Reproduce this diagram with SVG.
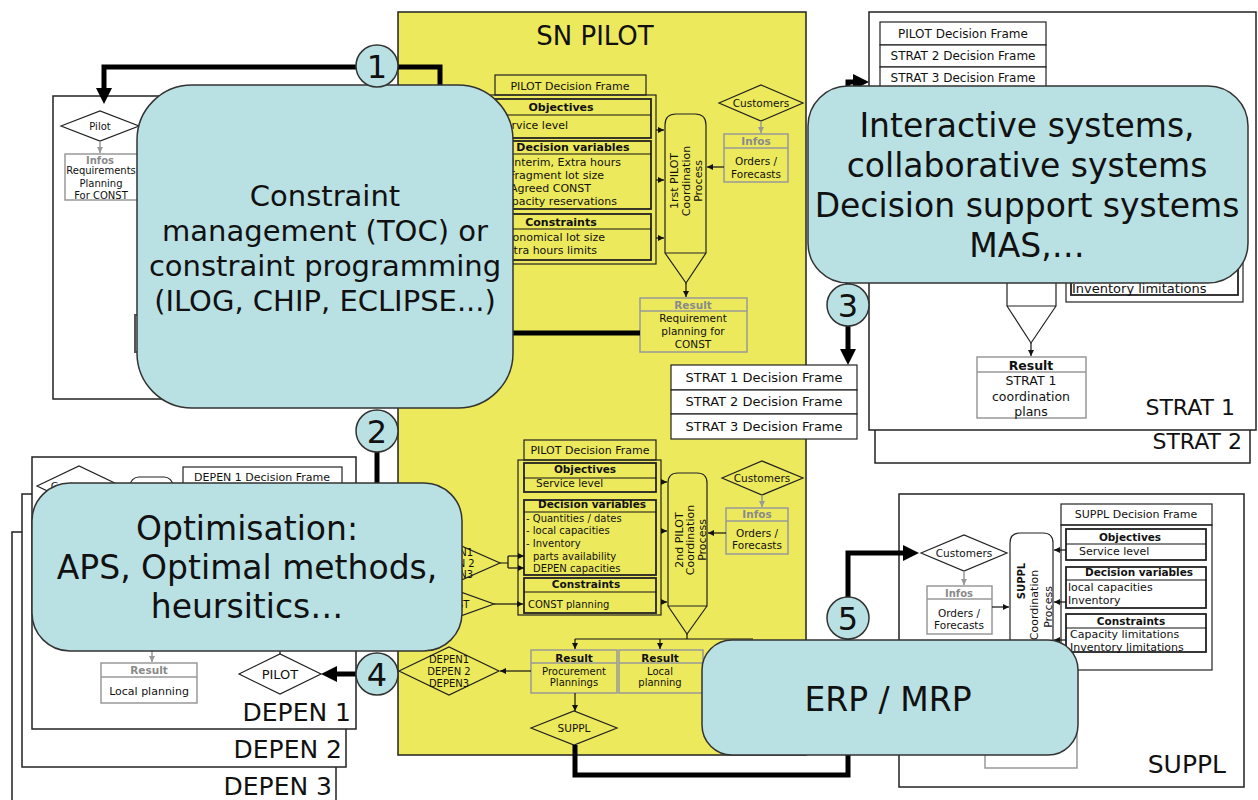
<svg xmlns="http://www.w3.org/2000/svg" width="1258" height="800" viewBox="0 0 1258 800">
<defs>
<style>
text{font-family:"DejaVu Sans","Liberation Sans",sans-serif;fill:#111}
.s10{font-size:10px}.s105{font-size:10.5px}.s11{font-size:11px}.s12{font-size:12px}.s125{font-size:12.5px}.s13{font-size:13px}
.b{font-weight:bold}
.g{fill:#8a8a8a;font-weight:bold}
.m{text-anchor:middle}.e{text-anchor:end}
.lbl{font-size:25px}.lbl2{font-size:22px}
.big{font-size:33px}.mid{font-size:29px}.num{font-size:32px;text-anchor:middle}
.frame{fill:#fff;stroke:#222;stroke-width:1.5}
.box{fill:none;stroke:#222;stroke-width:1.2}
.ibox{fill:none;stroke:#222;stroke-width:1.8}
.wbox{fill:#fff;stroke:#222;stroke-width:1.2}
.gbox{fill:none;stroke:#999;stroke-width:1.5}
.ln{fill:none;stroke:#111;stroke-width:1.2}
.gln{fill:none;stroke:#999;stroke-width:1.5}
.thick{fill:none;stroke:#000;stroke-width:5}
.teal{fill:#b9e0e3;stroke:#333;stroke-width:1.5}
.yel{fill:#ede95c;stroke:#222;stroke-width:1.5}
</style>
<marker id="ar" markerUnits="userSpaceOnUse" markerWidth="8" markerHeight="8" refX="6" refY="3" orient="auto"><path d="M0,0 L6,3 L0,6 z" fill="#111"/></marker>
<marker id="ag" markerUnits="userSpaceOnUse" markerWidth="8" markerHeight="8" refX="6" refY="3" orient="auto"><path d="M0,0 L6,3 L0,6 z" fill="#999"/></marker>
<marker id="AR" markerUnits="userSpaceOnUse" markerWidth="18" markerHeight="18" refX="4" refY="8" orient="auto"><path d="M0,0 L16,8 L0,16 z" fill="#000"/></marker>
</defs>
<rect width="1258" height="800" fill="#fff"/>

<g id="depen3">
<rect class="frame" x="12" y="532" width="324" height="300"/>
<text class="lbl e" x="332" y="795">DEPEN 3</text>
</g>
<g id="depen2">
<rect class="frame" x="22" y="494" width="324" height="273"/>
<text class="lbl e" x="342" y="758">DEPEN 2</text>
</g>
<g id="depen1">
<rect class="frame" x="32" y="457" width="324" height="272"/>
<text class="lbl e" x="351" y="721">DEPEN 1</text>
<polygon class="box" points="37,486 79,466 121,486 79,506"/>
<text class="s105 m" x="79" y="490">Customers</text>
<rect class="box" x="130" y="477" width="43" height="150" rx="9"/>
<rect class="wbox" x="183" y="467" width="159" height="19"/>
<text class="s11 m" x="262" y="481">DEPEN 1 Decision Frame</text>
<path class="gln" d="M152,640 V662" marker-end="url(#ag)"/>
<rect class="gbox" x="101" y="663" width="96" height="40"/>
<line class="gln" x1="101" y1="677" x2="197" y2="677"/>
<text class="s105 g m" x="149" y="674">Result</text>
<text class="s11 m" x="149" y="695">Local planning</text>
<line class="ln" x1="280" y1="640" x2="280" y2="654"/>
<polygon class="box" points="239,674 280,654 321,674 280,694"/>
<text class="s13 m" x="280" y="679">PILOT</text>
</g>

<g id="strat2">
<rect class="frame" x="875" y="20" width="375" height="443"/>
<text class="lbl2 e" x="1242" y="449">STRAT 2</text>
</g>
<g id="strat1">
<rect class="frame" x="869" y="12" width="387" height="418"/>
<text class="lbl2 e" x="1235" y="415">STRAT 1</text>
<rect class="wbox" x="880" y="22" width="166" height="23"/>
<rect class="wbox" x="880" y="45" width="166" height="22"/>
<rect class="wbox" x="880" y="67" width="166" height="22"/>
<text class="s12 m" x="963" y="38">PILOT Decision Frame</text>
<text class="s12 m" x="963" y="60">STRAT 2 Decision Frame</text>
<text class="s12 m" x="963" y="82">STRAT 3 Decision Frame</text>
<rect class="box" x="1066" y="200" width="177" height="102"/>
<rect class="ibox" x="1071" y="215" width="167" height="80"/>
<text class="s13" x="1072" y="293">Inventory limitations</text>
<path class="box" d="M1007,100 V306 H1056 V100 M1007,306 L1031,343 L1056,306"/>
<path class="ln" d="M1031,343 V356" marker-end="url(#ar)"/>
<rect class="gbox" x="977" y="357" width="109" height="61"/>
<line class="gln" x1="977" y1="372" x2="1086" y2="372"/>
<text class="s125 b m" x="1031" y="370">Result</text>
<text class="s125 m" x="1031" y="385">STRAT 1</text>
<text class="s125 m" x="1031" y="401">coordination</text>
<text class="s125 m" x="1031" y="416">plans</text>
</g>

<g id="suppl">
<rect class="frame" x="899" y="494" width="345" height="293"/>
<text class="lbl e" x="1226" y="773">SUPPL</text>
<polygon class="box" points="921,553 964,535 1007,553 964,571"/>
<text class="s105 m" x="964" y="557">Customers</text>
<path class="gln" d="M964,571 V585" marker-end="url(#ag)"/>
<rect class="gbox" x="927" y="586" width="65" height="48"/>
<line class="gln" x1="927" y1="599" x2="992" y2="599"/>
<text class="s10 g m" x="959" y="597">Infos</text>
<text class="s105 m" x="959" y="617">Orders /</text>
<text class="s105 m" x="959" y="629">Forecasts</text>
<path class="ln" d="M992,607 H1009" marker-end="url(#ar)"/>
<path class="box" d="M1010,700 V543 Q1010,533 1020,533 H1043 Q1053,533 1053,543 V700 Z M1010,700 L1031,730 L1053,700"/>
<text class="s10 b m" transform="translate(1025,581) rotate(-90)">SUPPL</text>
<text class="s11 m" transform="translate(1038,605) rotate(-90)">Coordination</text>
<text class="s11 m" transform="translate(1052,607) rotate(-90)">Process</text>
<rect class="gbox" x="985" y="700" width="92" height="68"/>
<rect class="wbox" x="1061" y="504" width="151" height="21"/>
<text class="s11 m" x="1136" y="518">SUPPL Decision Frame</text>
<rect class="box" x="1061" y="525" width="151" height="145"/>
<rect class="ibox" x="1066" y="529" width="140" height="31"/>
<line class="ln" x1="1066" y1="544" x2="1206" y2="544"/>
<rect class="ibox" x="1066" y="567" width="140" height="41"/>
<line class="ln" x1="1066" y1="580" x2="1206" y2="580"/>
<rect class="ibox" x="1066" y="614" width="140" height="38"/>
<line class="ln" x1="1066" y1="628" x2="1206" y2="628"/>
<text class="s105 b m" x="1130" y="541">Objectives</text>
<text class="s11" x="1079" y="555">Service level</text>
<text class="s105 b m" x="1139" y="576">Decision variables</text>
<text class="s11" x="1068" y="591">local capacities</text>
<text class="s11" x="1068" y="604">Inventory</text>
<text class="s105 b m" x="1131" y="625">Constraints</text>
<text class="s11" x="1070" y="638">Capacity limitations</text>
<text class="s11" x="1070" y="651">Inventory limitations</text>
<path class="ln" d="M1066,550 H1054" marker-end="url(#ar)"/>
<path class="ln" d="M1066,602 H1054" marker-end="url(#ar)"/>
<path class="ln" d="M1066,640 H1054" marker-end="url(#ar)"/>
</g>

<g id="const-frame">
<rect class="frame" x="53" y="96" width="400" height="303"/>
<polygon class="box" points="61,126 100,111 139,126 100,141"/>
<text class="s10 m" x="100" y="130">Pilot</text>
<path class="gln" d="M100,141 V153" marker-end="url(#ag)"/>
<rect class="gbox" x="65" y="154" width="80" height="46"/>
<text class="s10 g m" x="100" y="164">Infos</text>
<text class="s10 m" x="101" y="174">Requirements</text>
<text class="s10 m" x="101" y="187">Planning</text>
<text class="s10 m" x="101" y="199">For CONST</text>
<rect x="135" y="315" width="80" height="37" fill="none" stroke="#555" stroke-width="2"/>
</g>

<g id="sn-pilot">
<rect class="yel" x="398" y="12" width="408" height="743"/>
<text x="595" y="45" font-size="26" text-anchor="middle">SN PILOT</text>
<rect class="box" x="495" y="75" width="151" height="20"/>
<text class="s11 m" x="570" y="90">PILOT Decision Frame</text>
<rect class="box" x="470" y="95" width="186" height="169"/>
<rect class="ibox" x="475" y="99" width="176" height="39"/>
<line class="ln" x1="475" y1="115" x2="651" y2="115"/>
<rect class="ibox" x="475" y="141" width="176" height="68"/>
<line class="ln" x1="475" y1="154" x2="651" y2="154"/>
<rect class="ibox" x="475" y="214" width="176" height="46"/>
<line class="ln" x1="475" y1="229" x2="651" y2="229"/>
<text class="s11 b m" x="561" y="111">Objectives</text>
<text class="s11 e" x="568" y="129">Service level</text>
<text class="s11 b m" x="573" y="151">Decision variables</text>
<text class="s11 e" x="621" y="166">Interim, Extra hours</text>
<text class="s11 e" x="604" y="179">Fragment lot size</text>
<text class="s11 e" x="591" y="192">Agreed CONST</text>
<text class="s11 e" x="617" y="205">Capacity reservations</text>
<text class="s11 b m" x="561" y="226">Constraints</text>
<text class="s11 e" x="605" y="241">Economical lot size</text>
<text class="s11 e" x="597" y="254">Extra hours limits</text>
<path class="ln" d="M656,130 H664" marker-end="url(#ar)"/>
<path class="ln" d="M656,180 H664" marker-end="url(#ar)"/>
<path class="ln" d="M656,238 H664" marker-end="url(#ar)"/>
<path class="box" d="M665,253 V125 Q665,114 676,114 H695 Q706,114 706,125 V253 Z M665,253 L686,283 L706,253"/>
<text class="s11 m" transform="translate(686,181) rotate(-90)"><tspan x="0" y="-8">1rst PILOT</tspan><tspan x="0" y="4">Coordination</tspan><tspan x="0" y="16">Process</tspan></text>
<polygon class="box" points="719,103 761,85 803,103 761,121"/>
<text class="s105 m" x="761" y="107">Customers</text>
<path class="gln" d="M761,121 V133" marker-end="url(#ag)"/>
<rect class="gbox" x="724" y="134" width="64" height="48"/>
<line class="gln" x1="724" y1="148" x2="788" y2="148"/>
<text class="s105 g m" x="756" y="145">Infos</text>
<text class="s105 m" x="756" y="165">Orders /</text>
<text class="s105 m" x="756" y="178">Forecasts</text>
<path class="ln" d="M724,167 H707" marker-end="url(#ar)"/>
<path class="ln" d="M686,283 V297" marker-end="url(#ar)"/>
<rect class="gbox" x="640" y="298" width="107" height="54"/>
<line class="gln" x1="640" y1="311" x2="747" y2="311"/>
<text class="s105 g m" x="693" y="309">Result</text>
<text class="s105 m" x="693" y="322">Requirement</text>
<text class="s105 m" x="693" y="335">planning for</text>
<text class="s105 m" x="693" y="348">CONST</text>
<rect class="box" x="524" y="440" width="132" height="20"/>
<text class="s11 m" x="590" y="454">PILOT Decision Frame</text>
<rect class="box" x="518" y="460" width="143" height="155"/>
<rect class="ibox" x="524" y="463" width="132" height="29"/>
<line class="ln" x1="524" y1="478" x2="656" y2="478"/>
<rect class="ibox" x="524" y="500" width="132" height="75"/>
<line class="ln" x1="524" y1="512" x2="656" y2="512"/>
<rect class="ibox" x="524" y="578" width="132" height="35"/>
<line class="ln" x1="524" y1="592" x2="656" y2="592"/>
<text class="s105 b m" x="585" y="473">Objectives</text>
<text class="s105" x="536" y="487">Service level</text>
<text class="s105 b m" x="592" y="508">Decision variables</text>
<text class="s10" x="526" y="522">- Quantities / dates</text>
<text class="s10" x="526" y="534">- local capacities</text>
<text class="s10" x="526" y="547">- Inventory</text>
<text class="s10" x="533" y="560">parts availability</text>
<text class="s10" x="533" y="572">DEPEN capacities</text>
<text class="s105 b m" x="586" y="588">Constraints</text>
<text class="s10" x="528" y="608">CONST planning</text>
<path class="ln" d="M661,482 H667" marker-end="url(#ar)"/>
<path class="ln" d="M661,531 H667" marker-end="url(#ar)"/>
<path class="ln" d="M661,602 H667" marker-end="url(#ar)"/>
<path class="box" d="M668,606 V483 Q668,473 678,473 H697 Q707,473 707,483 V606 Z M668,606 L687,634 L707,606"/>
<text class="s11 m" transform="translate(687,540) rotate(-90)"><tspan x="0" y="-4">2nd PILOT</tspan><tspan x="0" y="7">Coordination</tspan><tspan x="0" y="19">Process</tspan></text>
<polygon class="box" points="722,478 762,461 803,478 762,495"/>
<text class="s105 m" x="762" y="482">Customers</text>
<path class="gln" d="M762,495 V507" marker-end="url(#ag)"/>
<rect class="gbox" x="726" y="508" width="62" height="46"/>
<line class="gln" x1="726" y1="521" x2="788" y2="521"/>
<text class="s105 g m" x="757" y="518">Infos</text>
<text class="s105 m" x="757" y="537">Orders /</text>
<text class="s105 m" x="757" y="549">Forecasts</text>
<path class="ln" d="M726,533 H708" marker-end="url(#ar)"/>
<polygon class="box" points="400,563 450,541 500,563 450,585"/>
<text class="s10 m" x="453" y="556">DEPEN1</text>
<text class="s10 m" x="453" y="567">DEPEN 2</text>
<text class="s10 m" x="453" y="578">DEPEN3</text>
<path class="ln" d="M500,563 H508 M508,556 V568"/>
<path class="ln" d="M508,556 H524" marker-end="url(#ar)"/>
<path class="ln" d="M508,568 H524" marker-end="url(#ar)"/>
<polygon class="box" points="410,604 452,589 494,604 452,619"/>
<text class="s10 m" x="452" y="608">CONST</text>
<path class="ln" d="M494,604 H523" marker-end="url(#ar)"/>
<path class="ln" d="M687,634 V639 M575,639 H753"/>
<path class="ln" d="M575,639 V649" marker-end="url(#ar)"/>
<path class="ln" d="M660,639 V649" marker-end="url(#ar)"/>
<rect class="gbox" x="531" y="650" width="86" height="43"/>
<line class="gln" x1="531" y1="663" x2="617" y2="663"/>
<text class="s105 b m" x="574" y="662">Result</text>
<text class="s10 m" x="574" y="675">Procurement</text>
<text class="s10 m" x="574" y="686">Plannings</text>
<rect class="gbox" x="619" y="650" width="84" height="43"/>
<line class="gln" x1="619" y1="663" x2="703" y2="663"/>
<text class="s105 b m" x="660" y="662">Result</text>
<text class="s10 m" x="660" y="675">Local</text>
<text class="s10 m" x="660" y="686">planning</text>
<polygon class="box" points="399,671 449,647 499,671 449,695"/>
<text class="s10 m" x="449" y="663">DEPEN1</text>
<text class="s10 m" x="449" y="675">DEPEN 2</text>
<text class="s10 m" x="449" y="687">DEPEN3</text>
<path class="ln" d="M531,671 H500" marker-end="url(#ar)"/>
<path class="ln" d="M575,693 V711" marker-end="url(#ar)"/>
<polygon class="box" points="531,728 574,711 617,728 574,745"/>
<text class="s105 m" x="574" y="732">SUPPL</text>
</g>

<g id="strat-frames">
<rect class="wbox" x="671" y="365" width="186" height="25"/>
<rect class="wbox" x="671" y="390" width="186" height="24"/>
<rect class="wbox" x="671" y="414" width="186" height="25"/>
<text class="s13 m" x="764" y="382">STRAT 1 Decision Frame</text>
<text class="s13 m" x="764" y="406">STRAT 2 Decision Frame</text>
<text class="s13 m" x="764" y="431">STRAT 3 Decision Frame</text>
</g>

<g id="connectors">
<path class="thick" d="M356,67 H104 V92" marker-end="url(#AR)"/>
<path class="thick" d="M398,67 H440 V333 H640"/>
<path class="thick" d="M377,452 V500"/>
<path class="thick" d="M848,284 V82 H857" marker-end="url(#AR)"/>
<path class="thick" d="M848,326 V353" marker-end="url(#AR)"/>
<path class="thick" d="M356,674 H333" marker-end="url(#AR)"/>
<path class="thick" d="M848,597 V553 H907" marker-end="url(#AR)"/>
<path class="thick" d="M575,745 V775 H848 V639"/>
</g>

<g id="tools-constraint">
<rect class="teal" x="137" y="85" width="376" height="323" rx="55"/>
<text class="mid m" x="325" y="206">Constraint</text>
<text class="mid m" x="325" y="241">management (TOC) or</text>
<text class="mid m" x="325" y="276">constraint programming</text>
<text class="mid m" x="325" y="311">(ILOG, CHIP, ECLIPSE...)</text>
</g>
<g id="tools-interactive">
<rect class="teal" x="808" y="86" width="440" height="197" rx="40"/>
<text class="big m" x="1027" y="137">Interactive systems,</text>
<text class="big m" x="1027" y="177">collaborative systems</text>
<text class="big m" x="1027" y="217">Decision support systems</text>
<text class="big m" x="1027" y="257">MAS,…</text>
</g>
<g id="tools-optimisation">
<rect class="teal" x="32" y="483" width="430" height="168" rx="38"/>
<text class="big m" x="247" y="540">Optimisation:</text>
<text class="big m" x="247" y="579">APS, Optimal methods,</text>
<text class="big m" x="247" y="618">heursitics…</text>
</g>
<g id="tools-erp">
<rect class="teal" x="702" y="640" width="376" height="115" rx="30"/>
<text class="big m" x="888" y="711">ERP / MRP</text>
</g>

<g id="c1"><circle class="teal" cx="377" cy="66" r="21"/><text class="num" x="377" y="78">1</text></g>
<g id="c2"><circle class="teal" cx="377" cy="431" r="21"/><text class="num" x="377" y="443">2</text></g>
<g id="c3"><circle class="teal" cx="848" cy="305" r="21"/><text class="num" x="848" y="317">3</text></g>
<g id="c4"><circle class="teal" cx="377" cy="674" r="21"/><text class="num" x="377" y="686">4</text></g>
<g id="c5"><circle class="teal" cx="848" cy="618" r="21"/><text class="num" x="848" y="630">5</text></g>
</svg>
